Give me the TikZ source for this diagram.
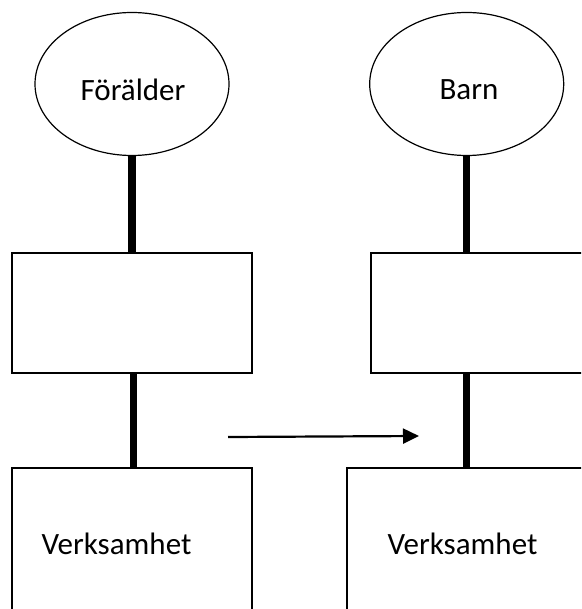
\documentclass[tikz,border=0pt]{standalone}
\usepackage{fontspec}
\setmainfont{Carlito}
\usetikzlibrary{arrows.meta,shapes.geometric}
\begin{document}
\begin{tikzpicture}[x=1pt,y=-1pt,
  oval/.style={ellipse,draw,line width=1.2pt,minimum width=194pt,minimum height=143pt,inner sep=0pt},
  boxnode/.style={draw,line width=1.5pt,rectangle,inner sep=0pt},
  stem/.style={line width=7.5pt},
  lbl/.style={font=\fontsize{31}{37}\selectfont,inner sep=0pt,anchor=base},
  flow/.style={line width=2.2pt,-{Triangle[length=16pt,width=15pt]}}]
\useasboundingbox (0,0) rectangle (581,609);
\clip (0,0) rectangle (581,609);
% ovals
\node[oval] (par) at (132,84) {};
\node[lbl] (partxt) at (133,101) {Förälder};
\node[oval] (chi) at (466.7,84) {};
\node[lbl] (chitxt) at (469,100) {Barn};
% middle boxes
\node[boxnode,minimum width=240pt,minimum height=120pt] (pbox) at (132,313) {};
\node[boxnode,minimum width=240pt,minimum height=120pt] (cbox) at (491,313) {};
% bottom boxes
\node[boxnode,minimum width=240pt,minimum height=232pt] (pver) at (132,584) {};
\node[boxnode,minimum width=253pt,minimum height=232pt] (cver) at (473.5,584) {};
\node[lbl] (pvertxt) at (116.5,554) {Verksamhet};
\node[lbl] (cvertxt) at (462.5,554) {Verksamhet};
% stems
\draw[stem] (par.south) -- (par.south |- pbox.north);
\draw[stem] (chi.south) -- (chi.south |- cbox.north);
\draw[stem] ([xshift=1.5pt]pbox.south) -- ([xshift=1.5pt]pbox.south |- pver.north);
\draw[stem] (chi.south |- cbox.south) -- (chi.south |- cver.north);
% arrow
\coordinate (a1) at (228,437);
\coordinate (a2) at (419,436);
\draw[flow] (a1) -- (a2);
\end{tikzpicture}
\end{document}
